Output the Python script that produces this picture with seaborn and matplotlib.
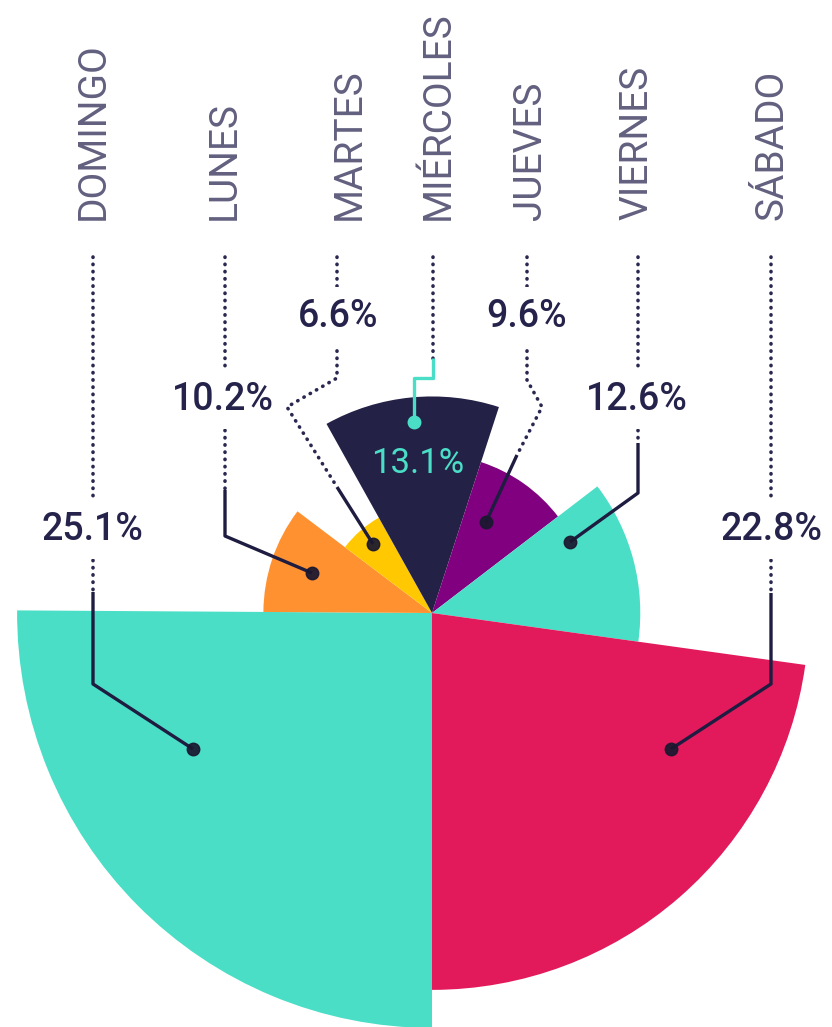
import numpy as np
import matplotlib
matplotlib.use("Agg")
import matplotlib.pyplot as plt
import seaborn as sns

# share of the week per day (%), angle and radius both follow the value
dias = ["DOMINGO", "LUNES", "MARTES", "MIÉRCOLES", "JUEVES", "VIERNES", "SÁBADO"]
porcentajes = [25.1, 10.2, 6.6, 13.1, 9.6, 12.6, 22.8]
colores = ["#4BDEC6", "#FF9130", "#FFC800", "#232146", "#80007F", "#4BDEC6", "#E21A5C"]

# layout of the callouts, in pixels of the 832x1027 picture
W, H = 832, 1027
centro = (432, 613)
px_por_unidad = 16.53
nombre_x = [93, 224, 349, 438, 530, 637, 772]
nombre_y = 220
pct_xy = [(92, 540), (223, 410), (338, 327), (418, 473), (527, 327), (637, 410), (771, 540)]
guias_punteadas = [
    [(93, 257), (93, 592)],
    [(225, 257), (225, 490)],
    [(337, 257), (337, 378), (287, 407), (337, 487)],
    [(433, 257), (433, 360)],
    [(527, 257), (527, 380), (542, 407), (517, 455)],
    [(638, 257), (638, 443)],
    [(771, 257), (771, 593)],
]
guias_solidas = [
    [(93, 592), (93, 684), (193, 749)],
    [(225, 490), (225, 536), (312, 573)],
    [(337, 487), (373, 544)],
    [(433, 358), (433, 378), (414, 378), (414, 422)],
    [(517, 455), (486, 522)],
    [(638, 443), (638, 493), (570, 542)],
    [(771, 593), (771, 684), (671, 749)],
]

sns.set_theme(style="white")
plt.rcParams["font.family"] = ["Roboto", "DejaVu Sans"]

navy = "#25234B"
gris = "#62607F"
teal = "#4BDEC6"

fig = plt.figure(figsize=(W / 100, H / 100), dpi=100)

# polar area chart: wedges from the bottom, clockwise
rmax = 26
R = rmax * px_por_unidad
ax = fig.add_axes([(centro[0] - R) / W, (H - centro[1] - R) / H, 2 * R / W, 2 * R / H],
                  projection="polar")
ax.set_theta_zero_location("S")
ax.set_theta_direction(-1)
valores = np.array(porcentajes)
anchos = valores / valores.sum() * 2 * np.pi
inicios = np.concatenate([[0], np.cumsum(anchos)[:-1]])
ax.bar(inicios, valores, width=anchos, align="edge", color=colores, linewidth=0)
ax.set_ylim(0, rmax)
ax.axis("off")

# overlay in pixel coordinates for labels and leader lines
ov = fig.add_axes([0, 0, 1, 1])
ov.set_xlim(0, W)
ov.set_ylim(H, 0)
ov.axis("off")
ov.patch.set_alpha(0)

for i, dia in enumerate(dias):
    ov.text(nombre_x[i], nombre_y, dia, rotation=90, ha="center", va="bottom",
            fontsize=28, color=gris)

    pts = np.array(guias_punteadas[i])
    ov.plot(pts[:, 0], pts[:, 1], color="#2A2850", lw=2.6,
            linestyle=(0, (0.1, 1.9)), dash_capstyle="round", zorder=2)

    es_dentro = dia == "MIÉRCOLES"
    col_linea = teal if es_dentro else "#1E1C40"
    pts = np.array(guias_solidas[i])
    ov.plot(pts[:, 0], pts[:, 1], color=col_linea, lw=2.4, solid_capstyle="butt", zorder=3)
    ov.plot(pts[-1, 0], pts[-1, 1], "o", ms=9, color=teal if es_dentro else "#1A1830",
            alpha=1 if es_dentro else 0.93, zorder=4)

    etiqueta = f"{porcentajes[i]:.1f}%"
    if es_dentro:
        ov.text(pct_xy[i][0], pct_xy[i][1], etiqueta, ha="center", va="baseline",
                fontsize=25, color=teal, zorder=5)
    else:
        ov.text(pct_xy[i][0], pct_xy[i][1], etiqueta, ha="center", va="baseline",
                fontsize=27, fontweight="medium", color=navy, zorder=5,
                bbox=dict(boxstyle="square,pad=0.3", fc="white", ec="none"))

fig.savefig("out.png", dpi=100)
